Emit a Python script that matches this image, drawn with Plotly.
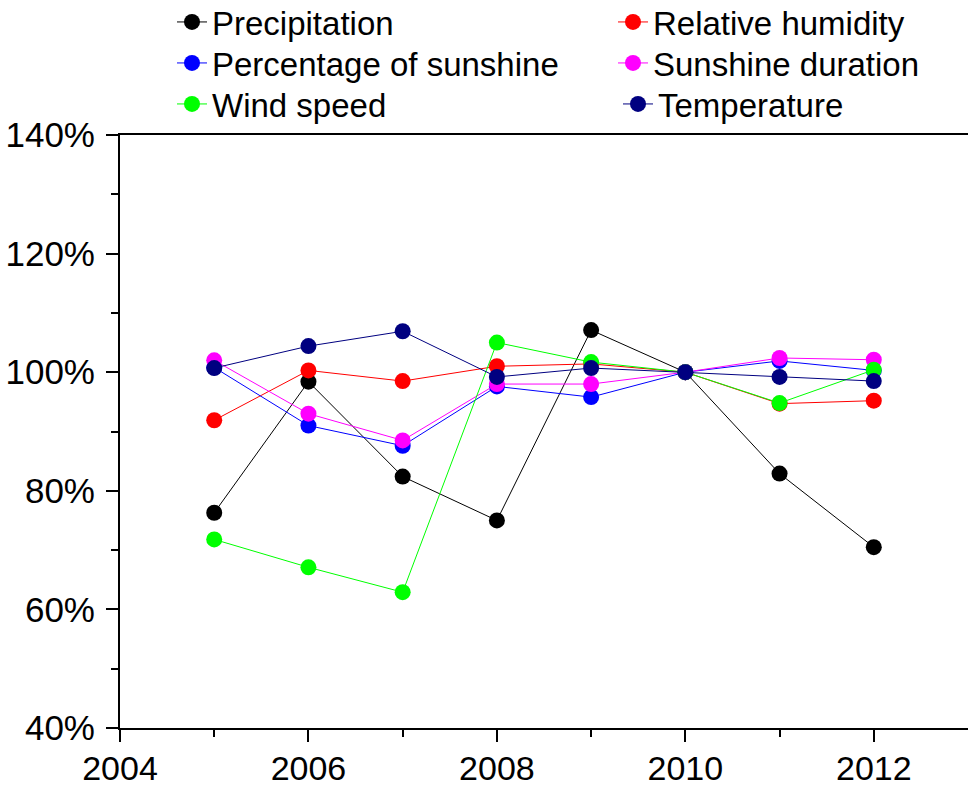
import plotly.graph_objects as go

years = [2005, 2006, 2007, 2008, 2009, 2010, 2011, 2012]
precipitation = [76.3, 98.4, 82.4, 75.0, 107.1, 100.0, 82.9, 70.5]
relative_humidity = [91.9, 100.3, 98.5, 101.0, 101.4, 100.0, 94.7, 95.2]
percentage_sunshine = [100.8, 91.0, 87.6, 97.6, 95.8, 100.0, 101.9, 100.3]
sunshine_duration = [102.0, 93.0, 88.5, 98.0, 98.0, 100.0, 102.4, 102.1]
wind_speed = [71.8, 67.1, 62.9, 105.0, 101.7, 100.0, 94.8, 100.4]
temperature = [100.7, 104.4, 106.9, 99.2, 100.7, 100.0, 99.2, 98.5]

x_tick_vals = [2004, 2006, 2008, 2010, 2012]
x_tick_labels = ["2004", "2006", "2008", "2010", "2012"]
y_tick_vals = [40, 60, 80, 100, 120, 140]
y_tick_labels = ["40%", "60%", "80%", "100%", "120%", "140%"]

series = [
    ("Precipitation", precipitation, "#000000"),
    ("Relative humidity", relative_humidity, "#FF0000"),
    ("Percentage of sunshine", percentage_sunshine, "#0000FF"),
    ("Sunshine duration", sunshine_duration, "#FF00FF"),
    ("Wind speed", wind_speed, "#00FF00"),
    ("Temperature", temperature, "#000080"),
]
# legend entry positions (text start x, row centre y) in pixels
legend_pos = [(213, 22), (654, 22), (213, 63), (654, 63), (213, 104), (659, 104)]

W, H = 968, 787
fig = go.Figure()
legends = {}
for i, (name, vals, color) in enumerate(series):
    lg = "legend" if i == 0 else f"legend{i+1}"
    fig.add_trace(go.Scatter(
        x=years, y=vals, name=name, mode="lines+markers",
        line=dict(color=color, width=1),
        marker=dict(color=color, size=16),
        legend=lg,
    ))
    tx, ty = legend_pos[i]
    legends[lg] = dict(xref="container", yref="container",
                       x=(tx - 41) / W, y=1 - ty / H,
                       xanchor="left", yanchor="middle",
                       font=dict(size=33), bgcolor="rgba(0,0,0,0)")

font_family = "Liberation Sans, Arial, sans-serif"
fig.update_layout(
    width=W, height=H,
    margin=dict(l=120, r=0, t=134.5, b=59.3, autoexpand=False),
    plot_bgcolor="white", paper_bgcolor="white",
    font=dict(family=font_family, color="black"),
    showlegend=True,
    **legends,
)
fig.update_xaxes(
    range=[2004, 2013], tickmode="array", tickvals=x_tick_vals, ticktext=x_tick_labels,
    ticks="outside", ticklen=12, tickwidth=2, tickcolor="black",
    minor=dict(tickvals=[2005, 2007, 2009, 2011], ticks="outside", ticklen=7, tickwidth=2, tickcolor="black"),
    showline=True, linewidth=2, linecolor="black", mirror=True,
    showgrid=False, zeroline=False,
    tickfont=dict(size=34), ticklabelstandoff=-3,
)
fig.update_yaxes(
    range=[40, 140], tickmode="array", tickvals=y_tick_vals, ticktext=y_tick_labels,
    ticks="outside", ticklen=12, tickwidth=2, tickcolor="black",
    minor=dict(tickvals=[50, 70, 90, 110, 130], ticks="outside", ticklen=7, tickwidth=2, tickcolor="black"),
    showline=True, linewidth=2, linecolor="black", mirror=False,
    showgrid=False, zeroline=False,
    tickfont=dict(size=35), ticklabelstandoff=4,
)
fig.write_html("out.html")
